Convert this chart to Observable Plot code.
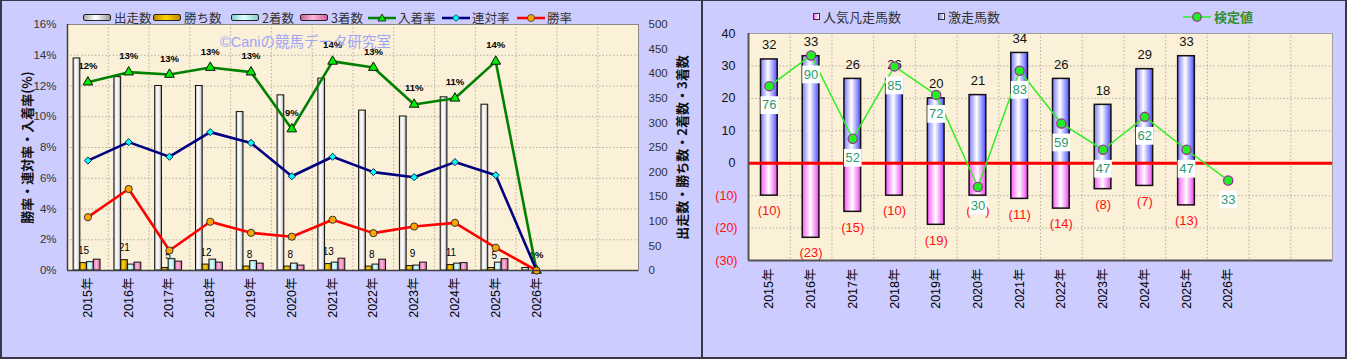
<!DOCTYPE html>
<html><head><meta charset="utf-8">
<script src="https://cdn.jsdelivr.net/npm/d3@7"></script>
<script src="https://cdn.jsdelivr.net/npm/@observablehq/plot@0.6"></script>
<style>
body{margin:0;background:#ccccff;}
#wrap{position:relative;width:1347px;height:359px;background:#ccccff;overflow:hidden;font-family:"Liberation Sans","Noto Sans CJK JP",sans-serif;}
#left{position:absolute;left:0;top:0;width:702px;height:359px;}
#right{position:absolute;left:702px;top:0;width:645px;height:359px;}
#left svg,#right svg{position:absolute;left:0;top:0;}
.lg{position:absolute;display:flex;align-items:center;font-family:"Noto Sans CJK JP",sans-serif;color:#333;white-space:nowrap;}
.sw{display:inline-block;width:26px;height:5px;border:1px solid #222;border-radius:2px;margin-right:3px;}
.sq{display:inline-block;width:5px;height:5px;border:1.5px solid #333;margin-right:3px;}
#wm{position:absolute;left:220px;top:30px;font-size:14.5px;color:#9fa4f4;font-family:"Liberation Sans","Noto Sans CJK JP",sans-serif;white-space:nowrap;}
.bd{position:absolute;background:#383848;}
</style></head>
<body><div id="wrap"><div id="left"></div><div id="right"></div></div>
<script>
// ---------- shared categories ----------
const years = ["2015年","2016年","2017年","2018年","2019年","2020年","2021年","2022年","2023年","2024年","2025年","2026年"];
const slotCount = 14;

// ---------- left chart data ----------
const starts  = [431,393,375,375,322,356,390,325,313,352,337,5];
const wins    = [15,21,5,12,8,8,13,8,9,11,5,0];
const seconds = [17,12,23,22,19,14,16,12,10,14,16,0];
const thirds  = [22,16,18,16,14,10,24,22,16,15,23,0];
const placeRate  = [0.1225,0.129,0.1275,0.132,0.129,0.092,0.136,0.132,0.108,0.112,0.136,0];
const rentaiRate = [0.0715,0.0835,0.074,0.090,0.083,0.0613,0.074,0.064,0.0607,0.0705,0.062,0];
const winRate    = [0.0347,0.053,0.013,0.0317,0.0245,0.022,0.033,0.0243,0.0286,0.031,0.0148,0];
const leftLegend = ["出走数","勝ち数","2着数","3着数","入着率","連対率","勝率"];
const leftTitle = "勝率・連対率・入着率(%)";
const rightTitleL = "出走数・勝ち数・2着数・3着数";
const rateMax = 0.16, countMax = 500;
const rateTicks = d3.range(0, 9).map(i => i * 0.02);
const countTicks = d3.range(0, 11).map(i => i * 50);

// ---------- right chart data ----------
const hitCounts  = [32,33,26,26,20,21,34,26,18,29,33,null];
const missCounts = [10,23,15,10,19,10,11,14,8,7,13,null];
const testValues = [76,90,52,85,72,30,83,59,47,62,47,33];
const rightLegend = ["人気凡走馬数","激走馬数","検定値"];
const posTicks = [0,10,20,30,40];
const negTicks = [-10,-20,-30];
const testDomain = [-3.5, 100]; // hidden secondary axis

const idx = d3.range(years.length);
const boundaries = d3.range(1, slotCount).map(i => i - 0.5);
const toRate = c => c / countMax * rateMax;
const fontMix = '"Liberation Sans","Noto Sans CJK JP",sans-serif';
const cjk = '"Noto Sans CJK JP",sans-serif';

function addGrad(svg, id, stops) {
  let defs = d3.select(svg).select("defs");
  if (defs.empty()) defs = d3.select(svg).insert("defs", ":first-child");
  const g = defs.append("linearGradient").attr("id", id).attr("x1", 0).attr("x2", 1).attr("y1", 0).attr("y2", 0);
  stops.forEach(([o, c]) => g.append("stop").attr("offset", o).attr("stop-color", c));
}

// ---------- left chart ----------
const barW = 0.165, g0 = -0.35;
const barSeries = [
  {vals: starts, fill: "url(#gstart)"},
  {vals: wins, fill: "url(#gwin)"},
  {vals: seconds, fill: "url(#gsecond)"},
  {vals: thirds, fill: "url(#gthird)"}
];
const grid = {stroke: "#a8a090", strokeDasharray: "1.5,2", strokeWidth: 0.8};

const left = Plot.plot({
  width: 702, height: 359,
  marginLeft: 67, marginRight: 64, marginTop: 24, marginBottom: 89,
  style: {background: "transparent", fontFamily: fontMix, overflow: "visible"},
  x: {type: "linear", domain: [-0.5, slotCount - 0.5]},
  y: {domain: [0, rateMax]},
  marks: [
    Plot.frame({fill: "#fbf0d8", stroke: "none"}),
    Plot.ruleY(rateTicks.slice(1), grid),
    Plot.ruleX(boundaries, grid),
    Plot.text(idx.filter(i => wins[i] > 0), {x: i => i + 0.03, y: i => toRate(wins[i]), text: i => String(wins[i]), textAnchor: "end", dy: -12, fontSize: 10, fill: "#000"}),
    Plot.text(idx, {x: i => i, y: i => placeRate[i], text: i => d3.format(".0%")(placeRate[i]), dy: -16, fontSize: 9.5, fontWeight: "bold", fill: "#000"}),
    ...barSeries.map((s, k) => Plot.rectY(idx, {
      x1: i => i + g0 + k * barW, x2: i => i + g0 + (k + 1) * barW,
      y1: 0, y2: i => toRate(s.vals[i]), fill: s.fill, stroke: "#111", strokeWidth: 1
    })),
    Plot.line(idx, {x: i => i, y: i => placeRate[i], stroke: "#008000", strokeWidth: 2.6}),
    Plot.line(idx, {x: i => i, y: i => rentaiRate[i], stroke: "#000080", strokeWidth: 2.6}),
    Plot.line(idx, {x: i => i, y: i => winRate[i], stroke: "#ff0000", strokeWidth: 2.6}),
    Plot.dot(idx, {x: i => i, y: i => placeRate[i], symbol: "triangle", r: 3.6, fill: "#00ee00", stroke: "#111", strokeWidth: 1}),
    Plot.dot(idx, {x: i => i, y: i => rentaiRate[i], symbol: "diamond2", r: 3.2, fill: "#00ffff", stroke: "#124", strokeWidth: 1}),
    Plot.dot(idx, {x: i => i, y: i => winRate[i], r: 3.6, fill: "#ffa500", stroke: "#333", strokeWidth: 1}),
    Plot.frame({stroke: "#8a8a8a"}),
    Plot.ruleY([0], {stroke: "#404040", strokeWidth: 1.5}),
    Plot.ruleX([-0.5], {stroke: "#404040", strokeWidth: 1.5}),
    Plot.axisX(idx, {tickFormat: i => years[i], tickRotate: -90, tickSize: 0, tickPadding: 7, fontSize: 12.5, fill: "#000", label: null}),
    Plot.axisY(rateTicks, {anchor: "left", tickFormat: d3.format(".0%"), tickSize: 0, tickPadding: 11, fontSize: 11.5, fill: "#333", label: null}),
    Plot.axisY(countTicks.map(toRate), {anchor: "right", tickFormat: d => Math.round(d / rateMax * countMax), tickSize: 0, tickPadding: 10, fontSize: 11.5, fill: "#333", label: null}),
    Plot.text([leftTitle], {text: d => d, frameAnchor: "left", textAnchor: "middle", dx: -40, rotate: -90, fontSize: 13, fontWeight: "bold", fill: "#111", fontFamily: cjk}),
    Plot.text([rightTitleL], {text: d => d, frameAnchor: "right", textAnchor: "middle", dx: 44, rotate: -90, fontSize: 13, fontWeight: "bold", fill: "#111", fontFamily: cjk})
  ]
});
addGrad(left, "gstart", [[0, "#b8b8b8"], [0.35, "#ffffff"], [0.7, "#e8e8e8"], [1, "#8c8c8c"]]);
addGrad(left, "gwin", [[0, "#d09000"], [0.4, "#ffd400"], [1, "#b88000"]]);
addGrad(left, "gsecond", [[0, "#90e0e0"], [0.45, "#e6ffff"], [1, "#80d0d0"]]);
addGrad(left, "gthird", [[0, "#e070b0"], [0.45, "#ffb8d8"], [1, "#d060a0"]]);
document.getElementById("left").appendChild(left);

// ---------- right chart ----------
const testToY = d3.scaleLinear().domain(testDomain).range([-30, 40]);
const hasHit = idx.filter(i => hitCounts[i] != null);
const right = Plot.plot({
  width: 645, height: 359,
  marginLeft: 46, marginRight: 15, marginTop: 33, marginBottom: 99,
  style: {background: "transparent", fontFamily: fontMix, overflow: "visible"},
  x: {type: "linear", domain: [-0.5, slotCount - 0.5]},
  y: {domain: [-30, 40]},
  marks: [
    Plot.frame({fill: "#fbf0d8", stroke: "none"}),
    Plot.ruleY(posTicks.concat(negTicks).filter(d => d !== -30 && d !== 40), grid),
    Plot.ruleX(boundaries, grid),
    Plot.rectY(hasHit, {x1: i => i - 0.2, x2: i => i + 0.2, y1: 0, y2: i => hitCounts[i], fill: "url(#ghit)", stroke: "#111", strokeWidth: 1.5}),
    Plot.rectY(hasHit, {x1: i => i - 0.2, x2: i => i + 0.2, y1: 0, y2: i => -missCounts[i], fill: "url(#gmiss)", stroke: "#111", strokeWidth: 1.5}),
    Plot.ruleY([0], {stroke: "#ff0000", strokeWidth: 3}),
    Plot.text(hasHit, {x: i => i, y: i => hitCounts[i], text: i => String(hitCounts[i]), dy: -14.5, fontSize: 13, fill: "#111"}),
    Plot.text(hasHit, {x: i => i, y: i => -missCounts[i], text: i => `(${missCounts[i]})`, dy: 15.5, fontSize: 13, fill: "#ff1010"}),
    Plot.line(idx, {x: i => i, y: i => testToY(testValues[i]), stroke: "#33ee22", strokeWidth: 1.5}),
    Plot.dot(idx, {x: i => i, y: i => testToY(testValues[i]), dy: 19, symbol: "square", r: 10, fill: "#ffffff"}),
    Plot.text(idx, {x: i => i, y: i => testToY(testValues[i]), text: i => String(testValues[i]), dy: 19, fontSize: 13, fill: "#2e9a6a"}),
    Plot.dot(idx, {x: i => i, y: i => testToY(testValues[i]), r: 4.6, fill: "#22ee22", stroke: "#993399", strokeWidth: 1.3}),
    Plot.frame({stroke: "#a0a0a0"}),
    Plot.ruleY([-30], {stroke: "#555", strokeWidth: 2}),
    Plot.ruleX([-0.5], {stroke: "#555", strokeWidth: 2}),
    Plot.axisX(idx, {tickFormat: i => years[i], tickRotate: -90, tickSize: 0, tickPadding: 8, fontSize: 12.5, fill: "#000", label: null}),
    Plot.axisY(posTicks, {anchor: "left", tickSize: 0, tickPadding: 13, fontSize: 12.5, fill: "#111", label: null}),
    Plot.axisY(negTicks, {anchor: "left", tickFormat: d => `(${-d})`, tickSize: 0, tickPadding: 11, fontSize: 12.5, fill: "#ff1010", label: null})
  ]
});
addGrad(right, "ghit", [[0, "#7a7aff"], [0.45, "#ffffff"], [1, "#4d4dff"]]);
addGrad(right, "gmiss", [[0, "#ff55ff"], [0.5, "#ffffff"], [1, "#ee44ee"]]);
document.getElementById("right").appendChild(right);

// ---------- legends (HTML) ----------
const wrap = document.getElementById("wrap");
const leftFills = [
  "linear-gradient(to right,#aaa,#fff 45%,#999)",
  "linear-gradient(to right,#c08800,#ffd400 45%,#c08800)",
  "linear-gradient(to right,#80d0d0,#e6ffff 45%,#80d0d0)",
  "linear-gradient(to right,#d060a0,#ffb8d8 45%,#d060a0)"
];
const leftLines = [
  {stroke: "#008000", sym: '<path d="M14 1 L18 8 L10 8 Z" fill="#00ee00" stroke="#111" stroke-width="0.8"/>'},
  {stroke: "#000080", sym: '<path d="M14 1.5 L17.5 5 L14 8.5 L10.5 5 Z" fill="#00ffff" stroke="#124" stroke-width="0.8"/>'},
  {stroke: "#ff0000", sym: '<circle cx="14" cy="5" r="3.5" fill="#ffa500" stroke="#333" stroke-width="0.8"/>'}
];
const leftPos = [83, 153, 231, 300, 368, 442, 517];
leftLegend.forEach((name, k) => {
  const el = document.createElement("div");
  el.className = "lg";
  el.style.left = leftPos[k] + "px"; el.style.top = "8px"; el.style.fontSize = "12.5px";
  if (k < 4) el.innerHTML = `<span class="sw" style="background:${leftFills[k]}"></span>${name}`;
  else {
    const L = leftLines[k - 4];
    el.innerHTML = `<svg width="28" height="10" style="margin-right:2px"><line x1="0" x2="28" y1="5" y2="5" stroke="${L.stroke}" stroke-width="2.5"/>${L.sym}</svg>${name}`;
  }
  wrap.appendChild(el);
});
const rightPos = [813, 938, 1183];
const rightSq = ["linear-gradient(to right,#ff66ff,#fff)", "linear-gradient(to right,#8080ff,#fff)"];
rightLegend.forEach((name, k) => {
  const el = document.createElement("div");
  el.className = "lg";
  el.style.left = rightPos[k] + "px"; el.style.top = "7px"; el.style.fontSize = "13px";
  if (k < 2) el.innerHTML = `<span class="sq" style="background:${rightSq[k]}"></span>${name}`;
  else {
    el.style.color = "#2f8f2f"; el.style.fontWeight = "bold";
    el.innerHTML = `<svg width="28" height="12" style="margin-right:3px"><line x1="0" x2="28" y1="6" y2="6" stroke="#33ee22" stroke-width="1.5"/><circle cx="14" cy="6" r="4.3" fill="#22ee22" stroke="#993399" stroke-width="1.3"/></svg>${name}`;
  }
  wrap.appendChild(el);
});
const wm = document.createElement("div");
wm.id = "wm"; wm.textContent = "©Caniの競馬データ研究室";
wrap.appendChild(wm);
// panel borders
[["0px","0px","1347px","1px"],["0px","357px","1347px","2px"],["0px","0px","2px","359px"],["701px","0px","2px","359px"],["1345px","0px","2px","359px"]].forEach(([l,t,w,h]) => {
  const b = document.createElement("div"); b.className = "bd";
  b.style.left = l; b.style.top = t; b.style.width = w; b.style.height = h;
  wrap.appendChild(b);
});
</script></body></html>
